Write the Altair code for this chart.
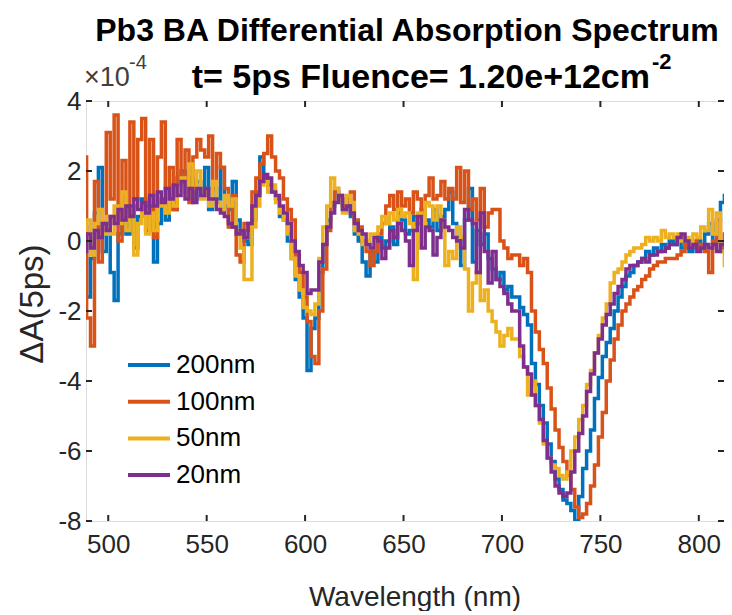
import altair as alt
import pandas as pd

# ---------------- data (values in units of 1e-4) ----------------
wavelength = list(range(488, 815, 2))
names = ["200nm", "100nm", "50nm", "20nm"]
colors = ["#0072BD", "#D95319", "#EDB120", "#7E2F8E"]

s200 = [0.4, -1.6, -0.5, 0.8, 2.1, -0.3, 0.5, -0.9, -1.7, 0.2,
        0.9, 0.2, 1.0, -0.2, 0.7, 1.2, 0.3, 1.0, -0.6, 0.5,
        1.2, 0.6, 1.4, 0.9, 1.8, 2.0, 1.4, 1.8, 1.2, 1.7,
        1.3, 2.1, 0.9, 1.5, 1.2, 2.1, 1.0, 0.9, 1.7, 0.6,
        0.2, 0.0, -0.1, 0.6, 1.4, 2.4, 1.8, 1.6, 1.4, 1.2,
        0.7, 0.6, 0.0, -0.5, -1.1, -1.6, -2.2, -3.7, -2.5, -2.2,
        -0.9, -0.1, 0.6, 1.0, 1.4, 1.2, 0.9, 1.1, 0.7, 0.2,
        0.0, -0.6, -1.0, -0.3, -0.6, 0.1, -0.2, 0.0, 0.4, -0.1,
        0.8, 0.6, 0.2, 0.3, 0.7, 0.5, 0.9, 0.6, 0.4, 0.9,
        0.3, 0.7, 0.9, 1.4, 0.5, 0.1, -0.7, 0.6, 1.5, -0.6,
        0.3, -0.1, 0.2, -0.5, -0.8, -1.1, -0.9, -1.4, -1.3, -1.6,
        -1.6, -1.9, -2.1, -2.4, -3.5, -4.1, -4.7, -5.2, -5.8, -6.3,
        -6.8, -7.1, -7.4, -7.5, -7.7, -8.0, -7.3, -6.5, -6.0, -5.4,
        -4.5, -3.9, -3.3, -2.9, -2.5, -2.0, -1.6, -1.3, -1.0, -0.9,
        -0.7, -0.6, -0.5, -0.3, -0.4, -0.2, -0.3, -0.1, -0.2, 0.0,
        -0.1, 0.1, -0.2, 0.0, -0.3, -0.1, 0.0, -0.2, 0.2, 0.5,
        0.0, 0.6, 1.1, 1.3]

s100 = [2.4, -2.2, -3.0, 1.7, -0.6, 0.5, 3.1, 1.2, 3.6, 0.0,
        2.3, 0.6, 3.4, 1.2, 2.9, 3.5, 1.0, 2.9, 0.1, 2.4,
        3.4, 1.5, 2.1, 0.9, 2.9, 1.7, 2.6, 1.1, 2.4, 2.9,
        2.6, 2.4, 3.0, 1.5, 2.5, 2.1, 1.5, 0.4, 1.3, -0.4,
        -0.6, 0.5, 0.3, 1.4, 1.8, 2.2, 2.5, 3.0, 2.4, 2.0,
        1.8, 1.2, 0.9, 0.6, -0.4, -0.9, -1.6, -2.3, -3.3, -3.5,
        -2.0, -0.8, 0.3, 1.1, 1.5, 1.3, 1.0, 1.2, 1.4, 0.6,
        0.4, 0.0, -0.3, -0.7, -0.3, 0.2, 0.5, 1.0, 1.3, 0.9,
        1.4, 1.0, 1.2, 0.8, 1.4, 1.2, 0.9, 1.3, 1.8, 1.2,
        1.3, 1.7, 1.2, 1.5, 1.2, 2.1, 1.1, 2.0, 0.9, 1.2,
        0.6, 1.5, 0.4, 0.8, 0.9, 0.9, 0.0, -0.2, -0.5, -0.4,
        -0.4, -0.7, -0.5, -0.9, -2.0, -2.6, -3.1, -3.5, -4.2, -4.8,
        -5.4, -5.9, -6.3, -6.7, -7.1, -7.6, -7.9, -7.8, -7.5, -7.0,
        -6.4, -5.6, -4.9, -4.0, -3.4, -2.8, -2.4, -2.0, -1.8, -1.6,
        -1.4, -1.3, -1.1, -1.0, -0.8, -0.7, -0.6, -0.6, -0.5, -0.5,
        -0.5, -0.4, -0.3, -0.1, -0.1, 0.0, -0.2, -0.1, -0.3, -0.9,
        0.0, 0.6, -0.2, 0.2]

s50 = [0.3, 0.6, -0.4, 0.5, 0.9, 0.2, 0.7, 0.2, 1.0, 0.5,
       1.4, 0.3, 0.9, -0.4, 0.5, 0.8, 0.2, 0.8, 0.3, 1.0,
       1.1, 0.8, 1.4, 1.0, 1.6, 1.8, 1.3, 2.2, 1.5, 2.0,
       1.2, 1.4, 1.0, 1.7, 1.1, 0.9, 1.3, 1.0, 1.2, 0.3,
       -0.2, -1.1, -1.1, 0.4, 1.0, 1.6, 1.7, 1.4, 1.6, 1.1,
       0.8, 0.6, 0.2, -0.5, -1.0, -1.4, -1.9, -2.0, -2.1, -1.8,
       -0.5, 0.4, 1.0, 1.8, 1.5, 1.2, 0.8, 1.3, 1.1, 0.3,
       0.2, -0.1, 0.0, 0.2, 0.2, 0.4, 0.7, 0.5, 0.8, 0.6,
       0.9, 0.7, 0.8, 0.5, -1.1, 0.8, 0.5, 1.1, 1.0, 0.6,
       1.0, 0.4, -0.7, -0.3, -0.5, 0.4, 0.1, -0.8, -2.0, -1.2,
       -0.9, -1.7, -1.4, -2.0, -2.3, -2.6, -3.0, -2.7, -2.5, -2.8,
       -2.8, -3.3, -3.6, -4.4, -4.0, -4.7, -5.2, -5.8, -6.2, -6.4,
       -6.5, -6.7, -6.8, -6.6, -6.0, -5.6, -5.1, -4.7, -4.1, -3.7,
       -3.2, -2.7, -2.2, -1.8, -1.2, -0.9, -0.8, -0.6, -0.4, -0.3,
       -0.2, -0.2, -0.1, 0.1, 0.0, 0.1, 0.0, 0.3, 0.1, 0.2,
       0.1, 0.2, 0.0, 0.1, -0.1, 0.2, 0.1, 0.4, 0.3, 0.9,
       0.2, 0.8, -0.3, -0.7]

s20 = [-0.3, 0.2, -0.2, 0.3, 0.1, 0.5, 0.3, 0.7, 0.5, 0.9,
       0.6, 1.0, 0.7, 1.2, 0.9, 1.1, 0.8, 1.3, 1.0, 1.4,
       1.1, 1.5, 1.2, 1.6, 1.3, 1.7, 1.2, 1.5, 1.1, 1.5,
       1.3, 1.5, 1.2, 1.2, 0.9, 0.8, 0.7, 0.5, 0.4, 0.2,
       0.3, 0.1, 0.5, 1.0, 1.3, 1.7, 1.9, 1.8, 1.4, 1.3,
       1.0, 0.8, 0.5, 0.0, -0.3, -0.7, -0.9, -1.5, -1.4, -1.4,
       -0.6, -0.1, 0.4, 0.8, 1.1, 1.3, 0.9, 1.0, 0.8, 0.5,
       0.3, 0.2, -0.1, -0.2, 0.1, 0.0, -0.5, -0.2, 0.3, 0.1,
       0.5, 0.3, 0.0, -0.7, 0.3, 0.7, -0.2, 0.4, 0.3, -0.4,
       0.1, 0.6, 0.4, 0.3, 0.1, 0.0, -0.2, 0.9, 0.6, 0.5,
       -0.9, 0.8, -0.3, -1.2, -0.3, -1.1, -1.3, -1.5, -1.8, -2.0,
       -2.0, -3.0, -3.6, -3.8, -4.4, -4.7, -5.1, -5.7, -6.2, -6.6,
       -7.0, -7.2, -7.3, -7.2, -6.6, -6.0, -5.5, -5.0, -4.3, -3.8,
       -3.2, -2.8, -2.4, -2.1, -1.8, -1.5, -1.3, -1.1, -0.8, -0.7,
       -0.7, -0.6, -0.5, -0.6, -0.4, -0.4, -0.3, -0.3, -0.2, -0.1,
       -0.1, 0.1, 0.2, 0.0, -0.2, -0.1, -0.3, -0.2, -0.1, -0.2,
       -0.1, -0.3, -0.1, -0.1]

series = [s200, s100, s50, s20]
x_ticks = [500, 550, 600, 650, 700, 750, 800]
y_ticks = [-8, -6, -4, -2, 0, 2, 4]

title1 = "Pb3 BA Differential Absorption Spectrum"
title2 = "t= 5ps Fluence= 1.20e+12cm"
title2_sup = "-2"
ylabel = "ΔA(5ps)"
xlabel = "Wavelength (nm)"

# ---------------- chart ----------------
W, H = 638, 420
FONT = "Liberation Sans"
TXT = "#262626"

rows = []
for name, vals in zip(names, series):
    assert len(vals) == len(wavelength), (name, len(vals))
    for w, v in zip(wavelength, vals):
        rows.append({"wl": w, "dA": v, "film": name})
df = pd.DataFrame(rows)

xs = alt.Scale(domain=[488.7, 812.8], nice=False, zero=False)
ys = alt.Scale(domain=[-8, 4], nice=False, zero=False)

x_axis = alt.Axis(values=x_ticks, ticks=False, domain=False, grid=False,
                  labelFontSize=26, labelPadding=10, labelFont=FONT,
                  labelColor=TXT, title=None, labelFlush=False)
y_axis = alt.Axis(values=y_ticks, ticks=False, domain=False, grid=False,
                  labelFontSize=26, labelPadding=5, labelFont=FONT,
                  labelColor=TXT, title=None, labelFlush=False,
                  labelExpr="datum.value < 0 ? '-' + abs(datum.value) : '' + datum.value")

layers = []
for name, col in zip(names, colors):
    layers.append(
        alt.Chart(df[df["film"] == name]).mark_line(
            color=col, strokeWidth=3.5, interpolate="step", clip=True
        ).encode(
            x=alt.X("wl:Q", scale=xs, axis=x_axis),
            y=alt.Y("dA:Q", scale=ys, axis=y_axis),
        )
    )

# inward ticks (box style)
xt = pd.DataFrame({"wl": x_ticks})
yt = pd.DataFrame({"dA": y_ticks})
tick_style = dict(color=TXT, strokeWidth=2)
layers.append(alt.Chart(xt).mark_rule(**tick_style).encode(
    x=alt.X("wl:Q", scale=xs, axis=x_axis), y=alt.value(H), y2=alt.value(H - 6)))
layers.append(alt.Chart(xt).mark_rule(**tick_style).encode(
    x=alt.X("wl:Q", scale=xs, axis=x_axis), y=alt.value(0), y2=alt.value(6)))
layers.append(alt.Chart(yt).mark_rule(**tick_style).encode(
    y=alt.Y("dA:Q", scale=ys, axis=y_axis), x=alt.value(0), x2=alt.value(6)))
layers.append(alt.Chart(yt).mark_rule(**tick_style).encode(
    y=alt.Y("dA:Q", scale=ys, axis=y_axis), x=alt.value(W), x2=alt.value(W - 6)))


def label(txt, x, y, size, color=TXT, weight="normal", align="left",
          baseline="alphabetic", angle=0):
    return alt.Chart(pd.DataFrame({"t": [txt]})).mark_text(
        font=FONT, fontSize=size, fontWeight=weight, color=color,
        align=align, baseline=baseline, angle=angle,
    ).encode(text="t:N", x=alt.value(x), y=alt.value(y))


# titles
layers.append(label(title1, 321, -60, 32, color="#000000", weight="bold", align="center"))
layers.append(label(title2, 564, -13, 34, color="#000000", weight="bold", align="right"))
layers.append(label(title2_sup, 566, -32, 22, color="#000000", weight="bold"))
# exponent marker
layers.append(label("×10", -2, -15, 27, color="#404040"))
layers.append(label("-4", 43, -32, 20, color="#404040"))
# axis titles
layers.append(label(xlabel, 329, 505, 28, align="center"))
layers.append(label(ylabel, -53, 203, 33, align="center", baseline="middle", angle=270))

# legend
for i, (name, col) in enumerate(zip(names, colors)):
    yy = 264 + i * 36.7
    layers.append(alt.Chart(pd.DataFrame({"t": [name]})).mark_rule(
        color=col, strokeWidth=4).encode(
        x=alt.value(42), x2=alt.value(84), y=alt.value(yy)))
    layers.append(label(name, 90, yy, 26, color="#000000", baseline="middle"))

chart = alt.layer(*layers).properties(
    width=W, height=H,
    autosize=alt.AutoSizeParams(type="none"),
    padding={"left": 78, "top": 93, "right": 0, "bottom": 90},
).configure_view(stroke=TXT, strokeWidth=2.5).configure(background="white")

chart.save("out.html", embed_options={"renderer": "svg", "actions": False})
